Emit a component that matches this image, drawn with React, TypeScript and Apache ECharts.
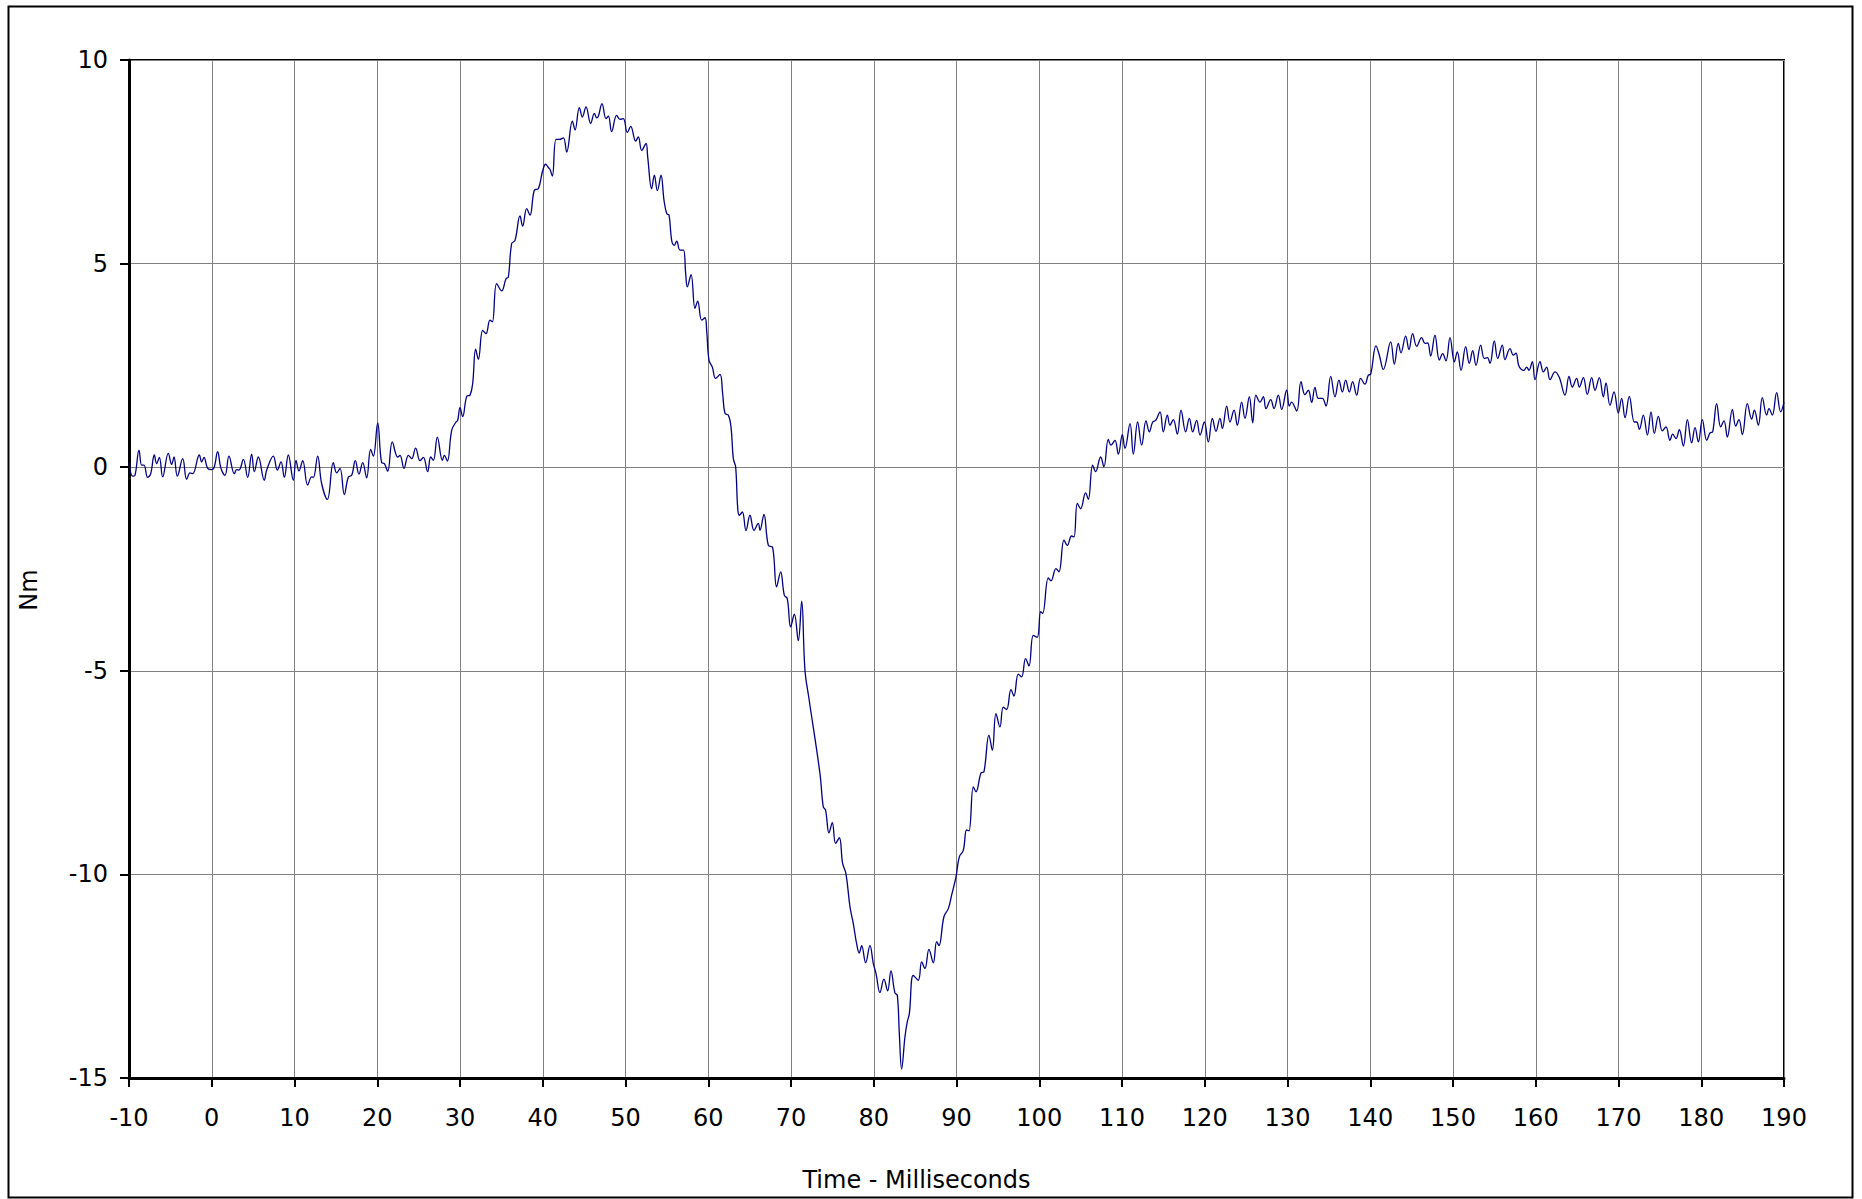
import React, { useEffect, useRef } from "react";
import * as echarts from "echarts";

// Torque (Nm) against time (ms): [time, torque]
const preload: [number, number][] = [
  [-10, 0.1], [-9.56, -0.22], [-9.28, -0.2], [-8.79, 0.42], [-8.47, 0.05], [-8.19, 0.05], [-7.75, -0.25],
  [-7.38, -0.16], [-6.94, 0.3], [-6.66, 0.09], [-6.33, 0.24], [-5.93, -0.24], [-5.25, 0.34], [-4.84, 0.07],
  [-4.56, 0.25], [-4.16, -0.22], [-3.51, 0.21], [-3.03, -0.3], [-2.63, -0.14], [-2.31, -0.16], [-1.5, 0.3],
  [-1.22, 0.13], [-0.94, 0.24], [-0.49, -0.03], [-0.01, -0.06], [0.31, 0.01], [0.71, 0.38], [1.12, -0.03],
  [1.6, -0.2], [2.08, 0.27], [2.73, -0.16], [3.01, -0.06], [3.29, -0.07], [3.82, 0.19], [4.34, -0.25],
  [4.82, 0.32], [5.15, -0.11], [5.63, 0.25], [6.35, -0.32], [6.64, -0.07], [7.44, 0.27], [7.93, -0.07],
  [8.37, 0.13], [8.77, -0.25], [9.25, 0.3], [9.86, -0.32], [10.18, 0.17], [10.54, -0.09], [10.99, 0.16],
  [11.59, -0.44], [12.07, -0.24], [12.28, -0.25], [12.8, 0.27], [13.28, -0.4], [13.97, -0.79], [14.69, 0.11],
];

const rise: [number, number][] = [
  [15.1, -0.14], [15.5, -0.03], [16.02, -0.67], [16.51, -0.24], [16.91, -0.2], [17.35, 0.16], [17.79, -0.17],
  [18.24, 0.11], [18.72, -0.26], [19.2, 0.44], [19.53, 0.27], [20.05, 1.09], [20.53, 0.11], [20.86, 0.09],
  [21.26, -0.1], [21.82, 0.62], [22.47, 0.25], [22.75, 0.29], [23.23, -0.03], [23.76, 0.29], [24.16, 0.21],
  [24.64, 0.47], [25.17, 0.16], [25.57, 0.24], [26.09, -0.11], [26.46, 0.25], [26.78, 0.17], [27.26, 0.74],
  [27.87, 0.17], [28.11, 0.29], [28.47, 0.15], [29.0, 0.91], [29.52, 1.11], [29.72, 1.15], [30.0, 1.46],
  [30.32, 1.24], [30.81, 1.74], [31.21, 1.77], [31.53, 2.05], [31.89, 2.9], [32.22, 2.65], [32.74, 3.36],
  [33.14, 3.28], [33.62, 3.61], [33.91, 3.57], [34.43, 4.51], [35.04, 4.33], [35.56, 4.63], [35.84, 4.67],
  [36.24, 5.49], [36.65, 5.57], [37.25, 6.17], [37.57, 5.92], [38.06, 6.35], [38.46, 6.19], [38.98, 6.8],
  [39.47, 6.84], [39.99, 7.28], [40.35, 7.44],
];

const crest: [number, number][] = [
  [40.68, 7.36], [40.88, 7.31], [41.16, 7.15], [41.6, 8.05], [42.0, 8.05], [42.49, 8.09], [42.89, 7.74],
  [43.58, 8.5], [43.9, 8.28], [44.42, 8.83], [44.79, 8.6], [45.23, 8.85], [45.79, 8.44], [46.24, 8.69],
  [46.52, 8.58], [46.72, 8.62], [47.16, 8.93], [47.65, 8.56], [47.93, 8.62], [48.33, 8.24], [48.93, 8.64],
  [49.34, 8.54], [49.74, 8.56], [50.22, 8.22], [50.63, 8.37], [51.23, 8.01], [51.55, 8.11], [51.96, 7.78],
  [52.48, 7.95], [52.68, 7.62], [53.16, 6.84], [53.49, 7.17], [53.85, 6.79], [54.29, 7.17], [54.65, 6.56],
  [54.98, 6.23], [55.26, 6.19], [55.58, 5.57], [55.9, 5.45], [56.19, 5.55], [56.59, 5.33], [57.0, 5.33],
  [57.27, 4.76], [57.47, 4.43], [57.92, 4.73], [58.4, 3.9], [58.72, 4.08], [59.21, 3.61], [59.61, 3.67],
];

const fall: [number, number][] = [
  [59.81, 3.36], [60.09, 2.63], [60.49, 2.46], [60.89, 2.18], [61.42, 2.28], [61.74, 1.81], [62.02, 1.32],
  [62.42, 1.28], [62.75, 0.99], [63.03, 0.21], [63.31, 0.01], [63.55, -0.97], [63.75, -1.18], [64.12, -1.1],
  [64.56, -1.56], [65.04, -1.18], [65.53, -1.55], [66.05, -1.38], [66.25, -1.55], [66.73, -1.16], [67.26, -1.92],
  [67.78, -1.97], [68.26, -2.94], [68.75, -2.57], [69.19, -3.14], [69.55, -3.23], [69.96, -3.92], [70.4, -3.61],
  [70.88, -4.26], [71.29, -3.29], [71.69, -4.99], [72.17, -5.68],
];

const trough: [number, number][] = [
  [73.5, -7.52], [73.9, -8.34], [74.18, -8.42], [74.59, -8.98], [74.99, -8.73], [75.39, -9.24], [75.84, -9.1],
  [76.24, -9.73], [76.64, -9.98], [77.13, -10.8], [77.53, -11.21], [77.93, -11.7], [78.25, -11.93], [78.54, -11.75],
  [79.02, -12.17], [79.54, -11.75], [79.95, -12.19], [80.27, -12.43], [80.75, -12.9], [81.23, -12.57], [81.68, -12.86],
  [82.08, -12.37], [82.56, -12.91], [82.85, -12.97], [83.09, -13.91], [83.37, -14.78], [83.77, -13.99], [84.05, -13.62],
  [84.3, -13.42], [84.78, -12.48], [85.38, -12.6], [85.79, -12.15], [86.19, -12.31], [86.67, -11.84], [87.2, -12.17],
  [87.6, -11.65], [87.88, -11.75], [88.48, -11.04], [89.01, -10.84], [89.41, -10.51],
];

const recovery: [number, number][] = [
  [89.94, -10.06], [90.34, -9.57], [90.82, -9.41], [91.22, -8.91], [91.51, -8.93], [92.03, -7.85], [92.35, -7.97],
  [92.96, -7.51], [93.32, -7.48], [93.92, -6.58], [94.33, -6.95], [94.77, -6.05], [95.25, -6.38], [95.65, -5.89],
  [96.06, -5.95], [96.58, -5.46], [96.94, -5.62], [97.47, -5.08], [97.87, -5.15], [98.35, -4.7], [98.76, -4.88],
  [99.28, -4.13], [99.76, -4.18], [100.17, -3.55], [100.41, -3.59], [101.09, -2.72], [101.42, -2.79], [102.02, -2.49],
  [102.38, -2.57], [102.99, -1.79], [103.39, -1.92], [103.91, -1.69], [104.2, -1.71], [104.6, -0.89], [105.0, -1.02],
  [105.6, -0.63], [105.93, -0.79], [106.45, 0.05], [106.81, -0.11], [107.42, 0.25], [107.82, 0.01], [108.34, 0.68],
];

const plateau: [number, number][] = [
  [108.67, 0.54], [109.15, 0.66], [109.56, 0.32], [110.04, 0.8], [110.36, 0.46], [110.97, 1.07], [111.37, 0.32],
  [111.89, 1.11], [112.38, 0.54], [112.9, 1.14], [113.3, 0.87], [113.71, 1.11], [114.07, 1.15], [114.59, 1.36],
  [114.99, 0.87], [115.48, 1.28], [115.8, 1.03], [116.2, 1.17], [116.69, 0.81], [117.13, 1.4], [117.69, 0.87],
  [118.14, 1.2], [118.54, 0.87], [119.02, 1.15], [119.43, 0.79], [119.95, 1.11], [120.43, 0.62], [120.92, 1.2],
  [121.36, 0.88], [121.84, 1.2], [122.13, 0.95], [122.65, 1.5], [123.05, 1.11], [123.54, 1.4], [123.94, 1.03],
  [124.46, 1.6], [124.86, 1.2], [125.39, 1.73], [125.79, 1.09], [126.19, 1.77], [126.68, 1.6], [127.08, 1.73],
  [127.4, 1.44], [127.97, 1.66], [128.37, 1.44], [128.89, 1.77], [129.3, 1.42], [129.9, 1.89], [130.22, 1.5],
  [130.5, 1.6], [131.11, 1.38], [131.63, 2.1], [132.11, 1.78], [132.52, 1.89], [132.92, 1.59], [133.32, 1.96],
  [133.73, 1.69], [134.21, 1.69], [134.65, 1.5], [135.22, 2.23], [135.74, 1.73], [136.22, 2.14], [136.63, 1.85],
  [137.03, 2.14], [137.47, 1.85], [137.87, 2.1], [138.36, 1.77], [138.84, 2.18],
];

const hump: [number, number][] = [
  [139.36, 2.04], [139.77, 2.26], [140.05, 2.28], [140.69, 2.98], [141.1, 2.75], [141.58, 2.4], [142.47, 3.08],
  [142.91, 2.53], [143.39, 3.04], [143.71, 2.81], [144.28, 3.22], [144.68, 2.89], [145.12, 3.28], [145.61, 2.97],
  [146.21, 3.18], [146.62, 3.04], [146.94, 3.05], [147.3, 2.73], [147.82, 3.24], [148.35, 2.63], [148.75, 2.79],
  [149.15, 2.61], [149.64, 3.18], [150.16, 2.59], [150.52, 2.83], [150.97, 2.38], [151.53, 2.96], [151.97, 2.55],
  [152.38, 2.86], [152.78, 2.5], [153.34, 3.0], [153.79, 2.67], [154.15, 2.69], [154.47, 2.55], [154.99, 3.1],
  [155.4, 2.67], [155.96, 3.0], [156.28, 2.64], [156.89, 2.91], [157.29, 2.75], [157.61, 2.8], [157.98, 2.48],
  [158.58, 2.38], [158.9, 2.46], [159.18, 2.38], [159.59, 2.59], [159.91, 2.15], [160.51, 2.59], [160.92, 2.34],
  [161.32, 2.46], [161.72, 2.15], [162.33, 2.34], [162.85, 2.2], [163.53, 1.77], [164.02, 2.23], [164.42, 1.97],
  [164.94, 2.18], [165.27, 1.97], [165.75, 2.2], [166.23, 1.79], [166.76, 2.2], [167.16, 1.89], [167.68, 2.2],
];

const tail: [number, number][] = [
  [168.17, 1.73], [168.49, 2.07], [168.97, 1.52], [169.46, 1.85], [169.98, 1.33], [170.38, 1.69], [170.79, 1.22],
  [171.31, 1.74], [171.91, 1.11], [172.2, 1.11], [172.52, 0.93], [173.0, 1.28], [173.49, 0.79], [173.93, 1.36],
  [174.33, 0.83], [174.82, 1.25], [175.3, 0.89], [175.74, 0.99], [176.22, 0.66], [176.55, 0.81], [176.95, 0.7],
  [177.35, 0.92], [177.84, 0.52], [178.32, 1.17], [178.84, 0.6], [179.25, 0.97], [179.65, 0.62], [180.13, 1.17],
  [180.66, 0.66], [181.06, 0.84], [181.38, 0.87], [181.86, 1.56], [182.35, 0.99], [182.75, 1.14], [183.15, 0.74],
  [183.76, 1.42], [184.16, 1.01], [184.56, 1.17], [184.97, 0.8], [185.57, 1.56], [186.09, 1.18], [186.42, 1.4],
  [186.9, 1.03], [187.38, 1.71], [187.9, 1.28], [188.19, 1.44], [188.59, 1.28], [189.11, 1.83], [189.6, 1.36],
  [190, 1.6],
];

const timeMin = -10;
const timeMax = 190;
const timeStep = 10;
const torqueMin = -15;
const torqueMax = 10;
const torqueStep = 5;
const xTitle = "Time - Milliseconds";
const yTitle = "Nm";

export default function App() {
  const ref = useRef<HTMLDivElement>(null);

  useEffect(() => {
    if (!ref.current) return;
    const chart = echarts.init(ref.current, undefined, { renderer: "svg" });
    const data = [
      ...preload, ...rise, ...crest, ...fall, ...trough,
      ...recovery, ...plateau, ...hump, ...tail,
    ];
    const font = "DejaVu Sans";
    chart.setOption({
      animation: false,
      backgroundColor: "#ffffff",
      grid: {
        left: 129,
        right: 78,
        top: 60,
        bottom: 121,
        show: true,
        borderColor: "#000000",
        borderWidth: 2,
        backgroundColor: "transparent",
      },
      graphic: [
        {
          type: "rect",
          shape: { x: 8.5, y: 6.5, width: 1844, height: 1191 },
          style: { fill: "none", stroke: "#000000", lineWidth: 2 },
          silent: true,
        },
      ],
      xAxis: {
        type: "value",
        min: timeMin,
        max: timeMax,
        interval: timeStep,
        name: xTitle,
        nameLocation: "middle",
        nameGap: 90,
        nameTextStyle: {
          fontFamily: font,
          fontSize: 24,
          color: "#000000",
          padding: [0, 80, 0, 0],
        },
        axisLine: { show: true, onZero: false, lineStyle: { color: "#000000", width: 3 } },
        axisTick: { show: true, inside: false, length: 9, lineStyle: { color: "#000000", width: 2 } },
        axisLabel: { fontFamily: font, fontSize: 24, color: "#000000", margin: 28 },
        splitLine: { show: true, lineStyle: { color: "#808080", width: 1 } },
      },
      yAxis: {
        type: "value",
        min: torqueMin,
        max: torqueMax,
        interval: torqueStep,
        name: yTitle,
        nameLocation: "middle",
        nameRotate: 90,
        nameGap: 88,
        nameTextStyle: {
          fontFamily: font,
          fontSize: 24,
          color: "#000000",
          padding: [0, 42, 0, 0],
        },
        axisLine: { show: true, onZero: false, lineStyle: { color: "#000000", width: 3 } },
        axisTick: { show: true, inside: false, length: 9, lineStyle: { color: "#000000", width: 2 } },
        axisLabel: { fontFamily: font, fontSize: 24, color: "#000000", margin: 21 },
        splitLine: { show: true, lineStyle: { color: "#808080", width: 1 } },
      },
      series: [
        {
          type: "line",
          data,
          showSymbol: false,
          smooth: 0.4,
          clip: true,
          lineStyle: { color: "#000080", width: 1.3 },
        },
      ],
    });
    return () => chart.dispose();
  }, []);

  return (
    <div
      ref={ref}
      style={{ position: "fixed", left: 0, top: 0, width: 1862, height: 1199, background: "#fff" }}
    />
  );
}
